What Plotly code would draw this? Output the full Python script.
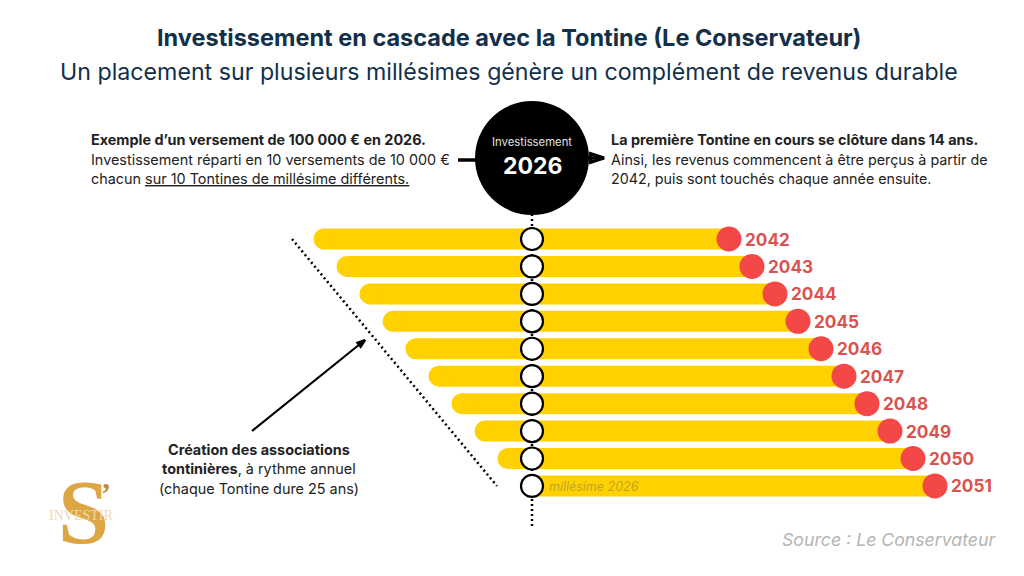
import plotly.graph_objects as go

# Data
millesimes = [2042, 2043, 2044, 2045, 2046, 2047, 2048, 2049, 2050, 2051]
bar_start = [-208, -185, -162, -139, -116, -93, -70, -47, -24, 0]
bar_end = [197, 220, 243, 266, 289, 312, 335, 358, 381, 403]
label_inv = "Investissement"
label_year = "2026"

YELLOW = "#FFD100"
RED = "#F44747"
LABEL_RED = "#D9534F"
INK = "#222222"
NAVY = "#12304A"
FONT = "Inter"
PX_PER_YEAR = 27.44
DOTS = "2px 3px"

def X(px):
    return px - 532

def Y(px):
    return 2042 + (px - 239) / PX_PER_YEAR

fig = go.Figure()

# central dotted axis
fig.add_trace(go.Scatter(x=[0, 0], y=[Y(214), Y(527)], mode="lines",
                         line=dict(color="black", width=2.5, dash=DOTS), hoverinfo="skip"))
# cascade bars
for y, s, e in zip(millesimes, bar_start, bar_end):
    fig.add_trace(go.Scatter(x=[s, e], y=[y, y], mode="lines",
                             line=dict(color=YELLOW, width=21), hoverinfo="skip"))
    fig.add_trace(go.Scatter(x=[s], y=[y], mode="markers",
                             marker=dict(color=YELLOW, size=21, line=dict(width=0)), hoverinfo="skip"))
# end dots
fig.add_trace(go.Scatter(x=bar_end, y=millesimes, mode="markers",
                         marker=dict(color=RED, size=25, line=dict(width=0)), hoverinfo="skip"))
for y, e in zip(millesimes, bar_end):
    fig.add_annotation(x=e, y=y, text=f"<b>{y}</b>", showarrow=False, xanchor="left", yanchor="middle",
                       xshift=14, yshift=0, font=dict(family=FONT, size=17.2, color=LABEL_RED))
# white rings
fig.add_trace(go.Scatter(x=[0] * len(millesimes), y=millesimes, mode="markers",
                         marker=dict(color="white", size=22, line=dict(color="black", width=2.2)),
                         hoverinfo="skip"))
# big black circle
fig.add_trace(go.Scatter(x=[0], y=[Y(158)], mode="markers",
                         marker=dict(color="black", size=114, line=dict(width=0)), hoverinfo="skip"))
# diagonal dotted line
fig.add_trace(go.Scatter(x=[X(292), X(497)], y=[Y(239), Y(486)], mode="lines",
                         line=dict(color="black", width=2.5, dash=DOTS), hoverinfo="skip"))
# connectors and arrows
fig.add_trace(go.Scatter(x=[X(458), X(478)], y=[Y(160), Y(160)], mode="lines",
                         line=dict(color="black", width=3.5), hoverinfo="skip"))
fig.add_trace(go.Scatter(x=[X(588), X(604)], y=[Y(158), Y(158)], mode="lines",
                         line=dict(color="black", width=3.5), hoverinfo="skip"))
fig.add_trace(go.Scatter(x=[X(252), X(365)], y=[Y(431), Y(340)], mode="lines",
                         line=dict(color="black", width=2.2), hoverinfo="skip"))
fig.add_trace(go.Scatter(x=[X(604)], y=[Y(158)], mode="markers", hoverinfo="skip",
                         marker=dict(symbol="arrow-open", angle=90, size=14, color="black",
                                     line=dict(color="black", width=3.2))))
fig.add_trace(go.Scatter(x=[X(365)], y=[Y(340)], mode="markers", hoverinfo="skip",
                         marker=dict(symbol="arrow-open", angle=51, size=8, color="black",
                                     line=dict(color="black", width=2.4))))


def txt(x, y, s, size=14, color=INK, anchor="left", family=FONT):
    fig.add_annotation(xref="paper", yref="paper", x=x / 1024, y=1 - y / 576, text=s, showarrow=False,
                       xanchor=anchor, yanchor="middle", align=anchor,
                       font=dict(family=family, size=size, color=color))

txt(509, 38, "<b>Investissement en cascade avec la Tontine (Le Conservateur)</b>", 23.5, NAVY, "center")
txt(508.5, 72, "Un placement sur plusieurs millésimes génère un complément de revenus durable", 23.2, NAVY, "center")

txt(89, 139, "<b>Exemple d’un versement de 100 000 € en 2026.</b>", 14.4)
txt(89, 159, "Investissement réparti en 10 versements de 10 000 €", 14.4)
txt(89, 179, 'chacun <span style="text-decoration:underline">sur 10 Tontines de millésime différents.</span>', 14.4)

txt(609, 139, "<b>La première Tontine en cours se clôture dans 14 ans.</b>", 14.4)
txt(609, 159, "Ainsi, les revenus commencent à être perçus à partir de", 14.3)
txt(609, 179, "2042, puis sont touchés chaque année ensuite.", 14.3)

txt(532, 142, label_inv, 11.3, "#E0E0E0", "center")
txt(532, 166, f"<b>{label_year}</b>", 23, "white", "center")

txt(259, 449, "<b>Création des associations</b>", 14.4, INK, "center")
txt(259, 468, "<b>tontinières</b>, à rythme annuel", 14.4, INK, "center")
txt(259, 488, "(chaque Tontine dure 25 ans)", 14.4, INK, "center")

txt(594, 486, "<i>millésime 2026</i>", 12.5, "#BFA62A", "center")
txt(889, 539, "<i>Source : Le Conservateur</i>", 17.7, "#B4B4B4", "center")

# logo
txt(83, 512, "<b>S</b>", 92, "#DDA544", "center", "Liberation Serif")
txt(106, 492, "<b>’</b>", 30, "#C58A2E", "center", "Liberation Serif")
txt(81, 515, "INVESTIR", 14, "#F0D9AE", "center", "Liberation Serif")

fig.update_layout(
    width=1024, height=576, margin=dict(l=0, r=0, t=0, b=0), showlegend=False,
    paper_bgcolor="white", plot_bgcolor="white",
    xaxis=dict(range=[-532, 492], visible=False, fixedrange=True),
    yaxis=dict(range=[Y(576), Y(0)], visible=False, fixedrange=True),
)
fig.write_html("out.html", config=dict(displayModeBar=False),
               post_script="document.body.style.margin='0';window.dispatchEvent(new Event('resize'));")
